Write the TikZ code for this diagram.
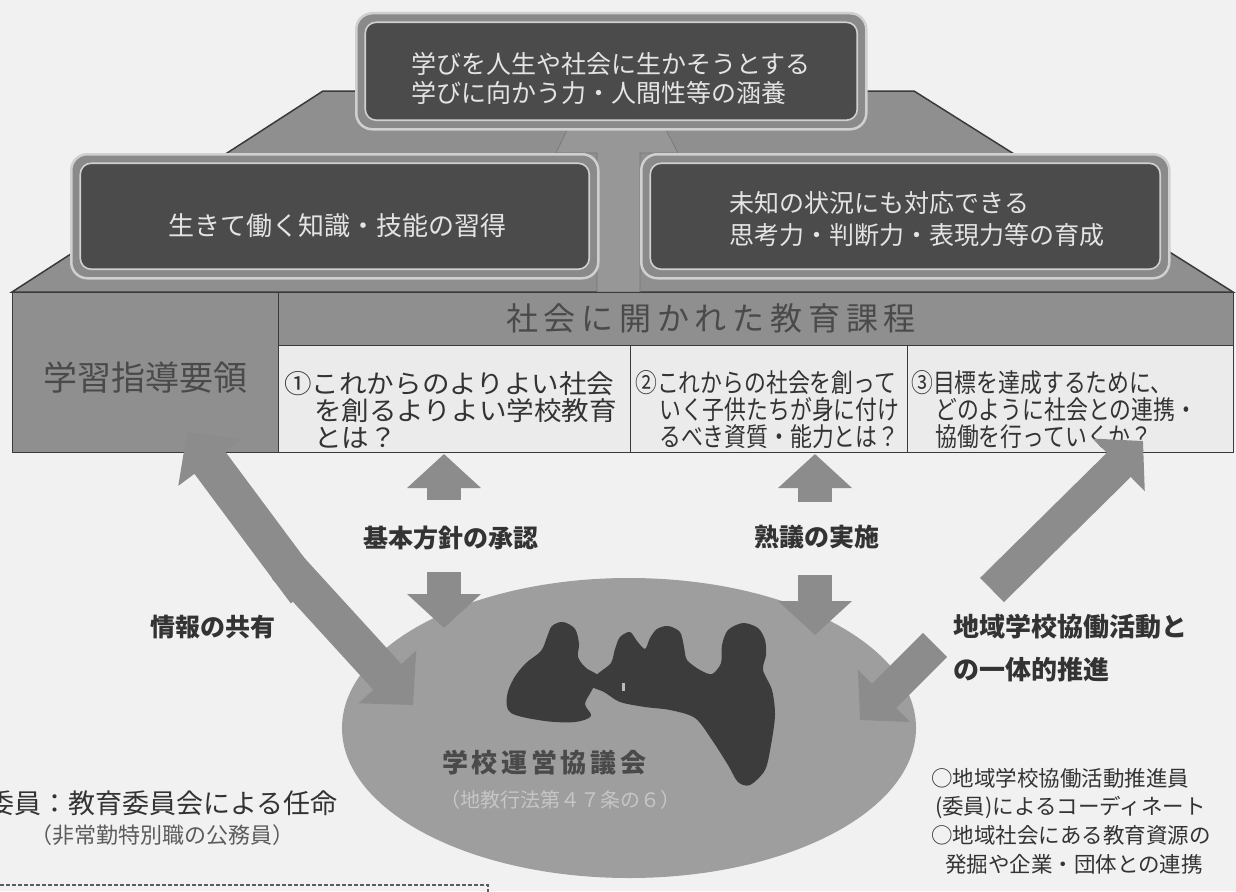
\documentclass[tikz,border=0pt]{standalone}
\usepackage{fontspec}
\setmainfont{Noto Sans CJK JP}
\newfontfamily\jpwide[FakeStretch=1.06]{Noto Sans CJK JP}
\newfontfamily\jpnarrow[FakeStretch=0.84]{Noto Sans CJK JP}
\newfontfamily\jptrack[LetterSpace=18]{Noto Sans CJK JP}
\newfontfamily\jptrackb[LetterSpace=14]{Noto Sans CJK JP}
\usetikzlibrary{arrows.meta,shapes.geometric}

\definecolor{paper}{HTML}{F1F1F1}
\definecolor{roofgray}{HTML}{8F8F8F}
\definecolor{stemgray}{HTML}{979797}
\definecolor{edgedark}{HTML}{3A3A3A}
\definecolor{cellwhite}{HTML}{EBEBEB}
\definecolor{boxdark}{HTML}{4B4B4B}
\definecolor{ringmid}{HTML}{8A8A8A}
\definecolor{ringlight}{HTML}{D0D0D0}
\definecolor{boxtext}{HTML}{E4E4E4}
\definecolor{titletext}{HTML}{4A4A4A}
\definecolor{arrowgray}{HTML}{8C8C8C}
\definecolor{ellgray}{HTML}{9E9E9E}
\definecolor{silh}{HTML}{3C3C3C}
\definecolor{lawtext}{HTML}{C6C6C6}
\definecolor{inktext}{HTML}{333333}
\definecolor{softtext}{HTML}{5C5C5C}

\begin{document}
\begin{tikzpicture}[x=1pt,y=-1pt,
  ring/.style={draw=ringlight, line width=2.5pt, fill=ringmid, rounded corners=16pt,
    anchor=north west, inner sep=0pt},
  panel/.style={draw=ringlight, line width=1.6pt, fill=boxdark, rounded corners=11pt,
    inner sep=0pt},
  paneltext/.style={text=boxtext, align=left, inner sep=0pt},
  graycell/.style={draw=edgedark, line width=1.4pt, fill=roofgray, anchor=north west, inner sep=0pt},
  whitecell/.style={draw=edgedark, line width=1.4pt, fill=cellwhite, anchor=north west, inner sep=0pt},
  celltext/.style={anchor=west, align=left, inner sep=0pt, text=inktext},
  blockarrow/.style={draw=arrowgray, line width=34pt, -{Triangle[width=72pt,length=34pt]}},
  flowlabel/.style={font=\fontsize{25}{28}\selectfont\bfseries, text=inktext, inner sep=0pt},
  note/.style={anchor=west, align=left, inner sep=0pt, text=inktext},
]
% page
\fill[paper] (0,0) rectangle (1236,891);
\useasboundingbox (0,0) rectangle (1236,891);

% roof and central stem
\filldraw[fill=roofgray, draw=edgedark, line width=1.5pt]
  (323,91) -- (914,91) -- (1233,292) -- (12,292) -- cycle;
\filldraw[fill=stemgray, draw=ringmid!85!black, line width=0.6pt]
  (568,128) -- (665,128) -- (678,153) -- (640,153) -- (640,292)
  -- (597,292) -- (597,153) -- (556,153) -- cycle;

% goal panels
\node[ring, minimum width=510pt, minimum height=116pt] (topring) at (355,12) {};
\node[panel, minimum width=492pt, minimum height=98pt] (topbox) at (topring.center) {};
\node[paneltext, font=\fontsize{25}{29}\selectfont] (toptext) at (611,78)
  {学びを人生や社会に生かそうとする\\学びに向かう力・人間性等の涵養};

\node[ring, minimum width=527pt, minimum height=124pt] (leftring) at (70,153) {};
\node[panel, minimum width=509pt, minimum height=106pt] (leftbox) at (leftring.center) {};
\node[paneltext, font=\fontsize{26}{30}\selectfont] (lefttext) at (337,226)
  {生きて働く知識・技能の習得};

\node[ring, minimum width=528pt, minimum height=124pt] (rightring) at (640,153) {};
\node[panel, minimum width=510pt, minimum height=106pt] (rightbox) at (rightring.center) {};
\node[paneltext, font=\fontsize{25}{32}\selectfont] (righttext) at (917,219)
  {未知の状況にも対応できる\\思考力・判断力・表現力等の育成};

% curriculum table
\node[graycell, minimum width=266pt, minimum height=160pt] (guide) at (12,292) {};
\node[graycell, minimum width=955pt, minimum height=53pt] (curhead) at (278,292) {};
\node[whitecell, minimum width=352pt, minimum height=107pt] (cellA) at (278,345) {};
\node[whitecell, minimum width=277pt, minimum height=107pt] (cellB) at (630,345) {};
\node[whitecell, minimum width=326pt, minimum height=107pt] (cellC) at (907,345) {};

\node[font=\fontsize{34}{38}\selectfont, text=titletext, inner sep=0pt] (guidelabel)
  at (145,378) {学習指導要領};
\node[font=\fontsize{32}{36}\jptrack, text=titletext, inner sep=0pt] (curtitle)
  at (711,318) {社会に開かれた教育課程};

\node[celltext, font=\fontsize{26}{27}\jpwide] (textA) at (284,410)
  {①これからのよりよい社会\\\hspace*{30pt}を創るよりよい学校教育\\\hspace*{30pt}とは？};
\node[celltext, font=\fontsize{26}{27}\jpnarrow] (textB) at (635,410)
  {②これからの社会を創って\\\hspace*{24pt}いく子供たちが身に付け\\\hspace*{24pt}るべき資質・能力とは？};
\node[celltext, font=\fontsize{26}{27}\jpnarrow] (textC) at (911,410)
  {③目標を達成するために、\\\hspace*{24pt}どのように社会との連携・\\\hspace*{24pt}協働を行っていくか？};

% school council
\node[ellipse, fill=ellgray, minimum width=574pt, minimum height=300pt, inner sep=0pt]
  (council) at (629,728) {};

% people around the table
\fill[silh] plot[smooth cycle, tension=0.55] coordinates {
  (563,622) (575,629) (579,644) (578,657) (586,668) (598,676) (592,690)
  (585,704) (591,716) (575,722) (545,721) (511,713) (507,696) (514,678)
  (526,663) (541,651) (547,637) (552,626)};
\fill[silh] plot[smooth cycle, tension=0.5] coordinates {
  (587,684) (600,672) (611,663) (615,649) (620,637) (630,632) (637,641)
  (645,649) (650,638) (657,629) (668,626) (680,632) (684,647) (687,660)
  (700,670) (712,674) (721,663) (722,645) (728,630) (743,623) (758,628)
  (765,640) (766,655) (763,670) (772,690) (775,715) (771,745) (765,770)
  (750,785) (738,782) (728,765) (712,740) (695,718) (670,710) (645,707)
  (620,702) (604,692)};
\fill[paper!70!silh] (622,683) rectangle (625,691);

\node[inner sep=0pt, anchor=west, text=titletext,
  font=\fontsize{26}{30}\jptrackb\bfseries] (councilname) at (442,763) {学校運営協議会};
\node[inner sep=0pt, anchor=west, text=lawtext,
  font=\fontsize{20}{24}\selectfont] (councillaw) at (440,800) {（地教行法第４７条の６）};

% arrow end points
\coordinate (shareTop) at (187,432);
\coordinate (shareMidA) at (306,592);
\coordinate (shareMidB) at (286,566);
\coordinate (shareBot) at (413,705);
\coordinate (policyUpFrom) at (444,500);
\coordinate (policyUpTo) at (444,454);
\coordinate (policyDnFrom) at (444,572);
\coordinate (policyDnTo) at (444,628);
\coordinate (talkUpFrom) at (815,502);
\coordinate (talkUpTo) at (815,454);
\coordinate (talkDnFrom) at (815,575);
\coordinate (talkDnTo) at (815,635);
\coordinate (linkUpFrom) at (992,590);
\coordinate (linkUpTo) at (1143,441);
\coordinate (linkDnFrom) at (935,645);
\coordinate (linkDnTo) at (860,720);

% arrows
\draw[blockarrow, line width=38pt, -{Triangle[width=76pt,length=38pt]}] (shareMidA) -- (shareTop);
\draw[blockarrow, line width=38pt, -{Triangle[width=76pt,length=38pt]}] (shareMidB) -- (shareBot);
\draw[blockarrow] (policyUpFrom) -- (policyUpTo);
\draw[blockarrow] (policyDnFrom) -- (policyDnTo);
\draw[blockarrow] (talkUpFrom) -- (talkUpTo);
\draw[blockarrow] (talkDnFrom) -- (talkDnTo);
\draw[blockarrow] (linkUpFrom) -- (linkUpTo);
\draw[blockarrow] (linkDnFrom) -- (linkDnTo);

% arrow labels
\node[flowlabel] (policylabel) at (451,538) {基本方針の承認};
\node[flowlabel] (talklabel) at (817,537) {熟議の実施};
\node[flowlabel] (sharelabel) at (213,627) {情報の共有};
\node[flowlabel, anchor=west, font=\fontsize{26}{43}\selectfont\bfseries, align=left]
  (linklabel) at (953,648) {地域学校協働活動と\\の一体的推進};

% notes
\node[note, font=\fontsize{27}{30}\selectfont] (membernote) at (-13,803)
  {委員：教育委員会による任命};
\node[note, text=softtext, font=\fontsize{22}{26}\selectfont] (statusnote) at (30,835)
  {（非常勤特別職の公務員）};
\draw[softtext, line width=1.2pt, dash pattern=on 4pt off 2pt]
  (0,885) -- (488,885) -- (488,895);

\node[note, font=\fontsize{21.5}{28.7}\selectfont] (coordnote) at (931,821)
  {○地域学校協働活動推進員\\\hspace*{4pt}(委員)によるコーディネート\\○地域社会にある教育資源の\\\hspace*{14pt}発掘や企業・団体との連携};
\end{tikzpicture}
\end{document}
